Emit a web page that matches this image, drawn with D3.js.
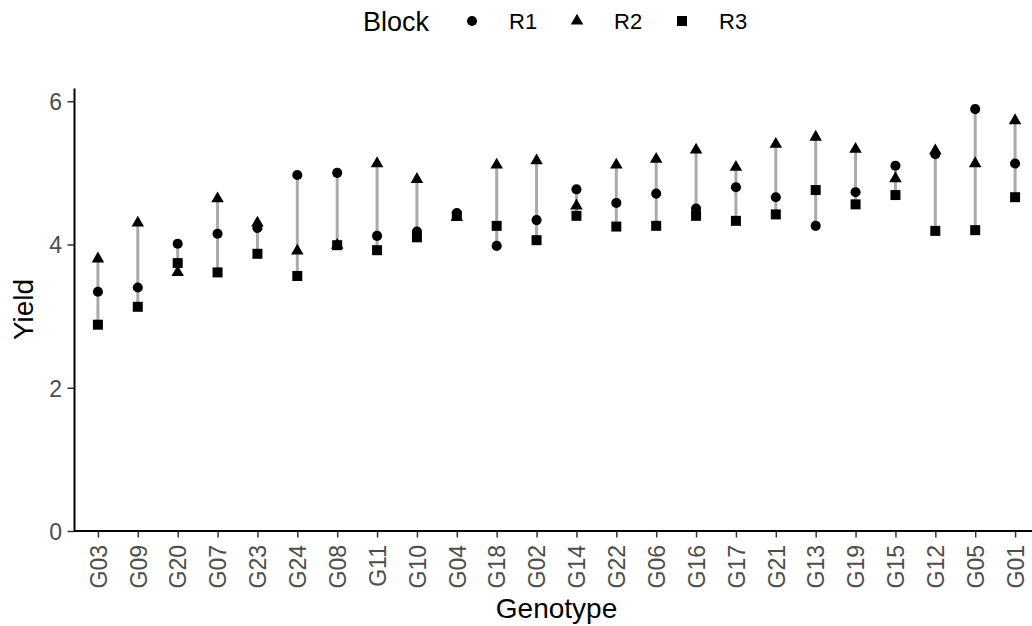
<!DOCTYPE html>
<html>
<head>
<meta charset="utf-8">
<script src="https://cdn.jsdelivr.net/npm/d3@7"></script>
<style>
  body { margin: 0; background: #fff; }
  svg { display: block; font-family: "Liberation Sans", Arial, sans-serif; }
</style>
</head>
<body>
<div id="chart"></div>
<script>
const genotypes = ["G03", "G09", "G20", "G07", "G23", "G24", "G08", "G11", "G10", "G04", "G18", "G02",
  "G14", "G22", "G06", "G16", "G17", "G21", "G13", "G19", "G15", "G12", "G05", "G01"];
const blocks = ["R1", "R2", "R3"];
const yieldR1 = [3.34, 3.40, 4.01, 4.15, 4.23, 4.97, 5.00, 4.12, 4.18, 4.44, 3.98, 4.34,
  4.77, 4.58, 4.71, 4.50, 4.80, 4.66, 4.26, 4.73, 5.10, 5.26, 5.89, 5.13];
const yieldR2 = [3.80, 4.30, 3.61, 4.64, 4.30, 3.91, 3.99, 5.13, 4.91, 4.38, 5.11, 5.17,
  4.54, 5.11, 5.19, 5.32, 5.08, 5.40, 5.50, 5.33, 4.92, 5.31, 5.13, 5.73];
const yieldR3 = [2.88, 3.13, 3.74, 3.61, 3.87, 3.56, 3.99, 3.92, 4.10, 4.40, 4.26, 4.06,
  4.40, 4.25, 4.26, 4.40, 4.33, 4.42, 4.76, 4.56, 4.69, 4.19, 4.20, 4.66];
const yTicks = [0, 2, 4, 6];

const width = 1032;
const height = 626;
const margin = { top: 88, right: -7, bottom: 95, left: 74 };

const series = { R1: yieldR1, R2: yieldR2, R3: yieldR3 };
const rows = [];
genotypes.forEach((g, i) => {
  blocks.forEach((b) => rows.push({ genotype: g, block: b, value: series[b][i] }));
});

const svg = d3
  .select("#chart")
  .append("svg")
  .attr("width", width)
  .attr("height", height);

const x = d3
  .scalePoint()
  .domain(genotypes)
  .range([margin.left, width - margin.right])
  .padding(0.6);

const yMax = d3.max(rows, (d) => d.value) * 1.05;
const y = d3
  .scaleLinear()
  .domain([0, yMax])
  .range([height - margin.bottom, margin.top]);

const shapes = d3
  .scaleOrdinal()
  .domain(blocks)
  .range([d3.symbolCircle, d3.symbolTriangle, d3.symbolSquare]);
const sizes = d3.scaleOrdinal().domain(blocks).range([80, 68, 100]);
const symbol = (b) => d3.symbol().type(shapes(b)).size(sizes(b))();

// range segments (min to max per genotype)
svg
  .append("g")
  .selectAll("line")
  .data(genotypes.map((g, i) => [g, d3.extent(blocks, (b) => series[b][i])]))
  .enter()
  .append("line")
  .attr("x1", (d) => x(d[0]))
  .attr("x2", (d) => x(d[0]))
  .attr("y1", (d) => y(d[1][0]))
  .attr("y2", (d) => y(d[1][1]))
  .attr("stroke", "#aaaaaa")
  .attr("stroke-width", 3);

// points: triangles first, then squares, then circles on top
const drawOrder = ["R2", "R3", "R1"];
svg
  .append("g")
  .selectAll("path")
  .data(rows.slice().sort((a, b) => drawOrder.indexOf(a.block) - drawOrder.indexOf(b.block)))
  .enter()
  .append("path")
  .attr("transform", (d) => `translate(${x(d.genotype)},${y(d.value)})`)
  .attr("d", (d) => symbol(d.block))
  .attr("fill", "#000");

// axes
const xAxis = svg
  .append("g")
  .attr("transform", `translate(0,${y(0)})`)
  .call(d3.axisBottom(x).tickSize(6.5).tickSizeOuter(0));
xAxis.select(".domain").attr("stroke", "#000").attr("stroke-width", 2)
  .attr("d", `M${margin.left},0H${width + 10}`);
xAxis.selectAll(".tick line").attr("stroke", "#333").attr("stroke-width", 1.5);
xAxis
  .selectAll(".tick text")
  .attr("fill", "#4d4d4d")
  .attr("font-size", 23)
  .attr("transform", "rotate(-90)")
  .attr("text-anchor", "end")
  .attr("x", -14)
  .attr("y", 0)
  .attr("dy", "0.36em");

const yAxis = svg
  .append("g")
  .attr("transform", `translate(${margin.left},0)`)
  .call(d3.axisLeft(y).tickValues(yTicks).tickFormat(d3.format("d")).tickSize(6.5).tickSizeOuter(0));
yAxis.select(".domain").attr("stroke", "#000").attr("stroke-width", 2);
yAxis.selectAll(".tick line").attr("stroke", "#333").attr("stroke-width", 1.5);
yAxis
  .selectAll(".tick text")
  .attr("fill", "#4d4d4d")
  .attr("font-size", 23)
  .attr("x", -12)
  .attr("dy", "0.36em");

// axis titles
svg
  .append("text")
  .attr("x", (margin.left + width - margin.right) / 2)
  .attr("y", 618)
  .attr("text-anchor", "middle")
  .attr("font-size", 28)
  .text("Genotype");

svg
  .append("text")
  .attr("transform", `translate(33,${(y(0) + y(yMax)) / 2}) rotate(-90)`)
  .attr("text-anchor", "middle")
  .attr("font-size", 28)
  .text("Yield");

// legend
const legend = svg.append("g");
legend
  .append("text")
  .attr("x", 363)
  .attr("y", 31)
  .attr("font-size", 27)
  .text("Block");

const keyX = [472, 577, 682];
blocks.forEach((b, i) => {
  legend
    .append("path")
    .attr("transform", `translate(${keyX[i]},21)`)
    .attr("d", symbol(b))
    .attr("fill", "#000");
  legend
    .append("text")
    .attr("x", keyX[i] + 37)
    .attr("y", 29)
    .attr("font-size", 22)
    .text(b);
});
</script>
</body>
</html>
